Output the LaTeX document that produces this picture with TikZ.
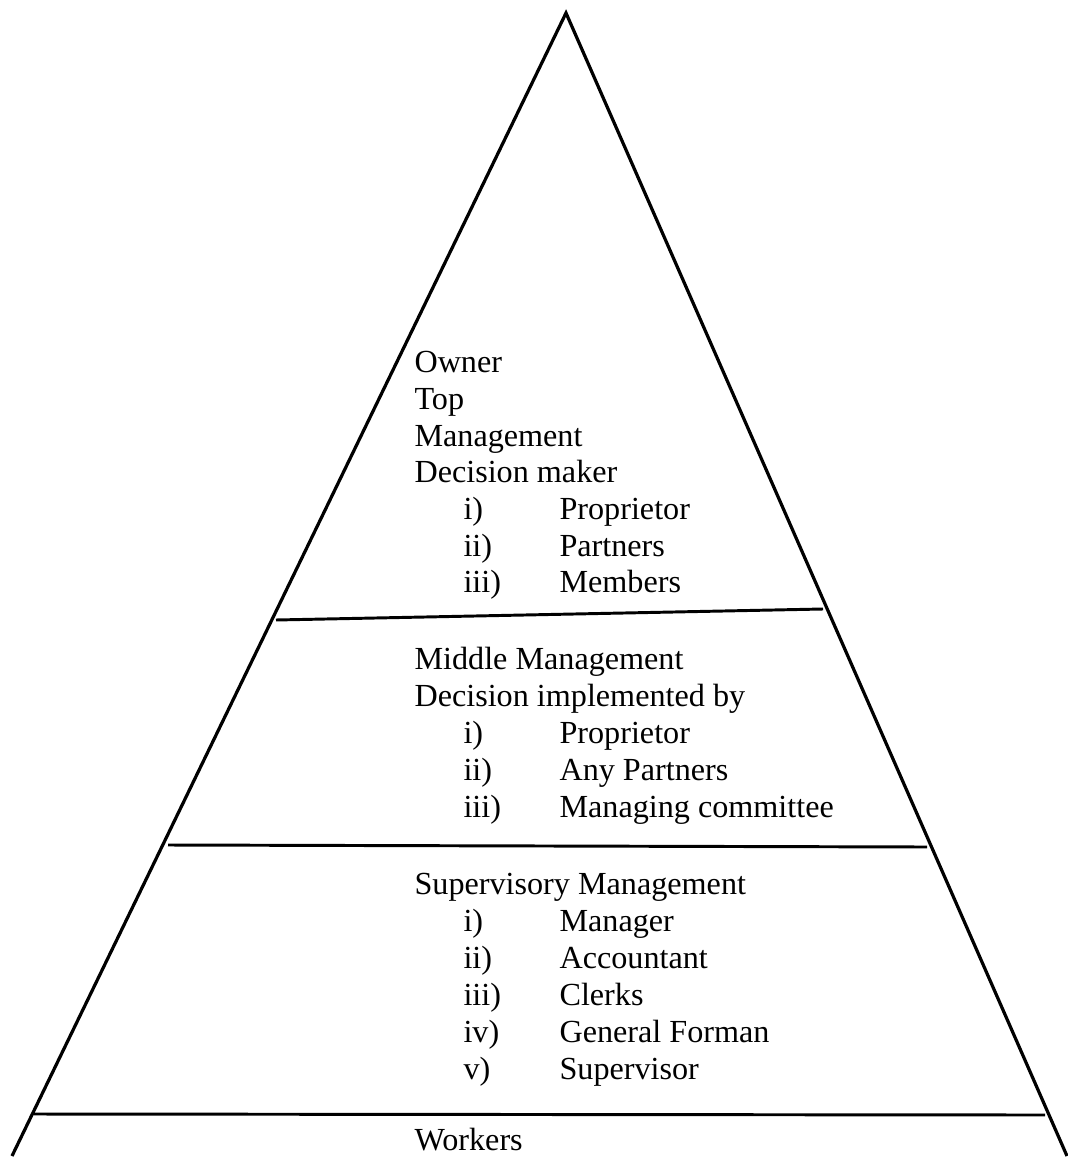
\documentclass[tikz,border=0pt]{standalone}
\usepackage{fontspec}
\setmainfont{Liberation Serif}
\usepackage{tikz}

\begin{document}
\begin{tikzpicture}[x=0.373pt,y=-0.373pt,every node/.style={anchor=base west, inner sep=0pt, font=\fontsize{12}{14}\selectfont}]
\useasboundingbox (0,0) rectangle (1067,1158);
% Corners
\coordinate (apex) at (566,13);
\coordinate (bl) at (12,1156);
\coordinate (br) at (1067,1156);
\coordinate (l1) at (276,620);
\coordinate (r1) at (823,609);
\coordinate (l2) at (168,845);
\coordinate (r2) at (927,847);
\coordinate (l3) at (34,1114);
\coordinate (r3) at (1045,1115);

%Lines
\draw[line width=1.2pt] (bl) -- (apex) -- (br);
\draw[line width=1.1pt] (l1) -- (r1);
\draw[line width=1.1pt] (l2) -- (r2);
\draw[line width=1.1pt] (l3) -- (r3);

% Top level
\node (owner) at (414,372) {Owner};
\node (top) at (414,409) {Top};
\node (mgmt) at (414,446) {Management};
\node (dmaker) at (414,482) {Decision maker};
\node (ti) at (463,519) {i)};
\node (tii) at (463,556) {ii)};
\node (tiii) at (463,592) {iii)};
\node (prop) at (559,519) {Proprietor};
\node (partn) at (559,556) {Partners};
\node (memb) at (559,592) {Members};

% Middle level
\node (midm) at (414,669) {Middle Management};
\node (dimpl) at (414,706) {Decision implemented by};
\node (mi) at (463,743) {i)};
\node (mii) at (463,780) {ii)};
\node (miii) at (463,817) {iii)};
\node (mprop) at (559,743) {Proprietor};
\node (mpartn) at (559,780) {Any Partners};
\node (mcomm) at (559,817) {Managing committee};

% Supervisory level
\node (supm) at (414,894) {Supervisory Management};
\node (si) at (463,931) {i)};
\node (sii) at (463,968) {ii)};
\node (siii) at (463,1005) {iii)};
\node (siv) at (463,1042) {iv)};
\node (sv) at (463,1079) {v)};
\node (manag) at (559,931) {Manager};
\node (accnt) at (559,968) {Accountant};
\node (clerk) at (559,1005) {Clerks};
\node (forman) at (559,1042) {General Forman};
\node (superv) at (559,1079) {Supervisor};

% Bottom level
\node (work) at (414,1150) {Workers};
\end{tikzpicture}
\end{document}
